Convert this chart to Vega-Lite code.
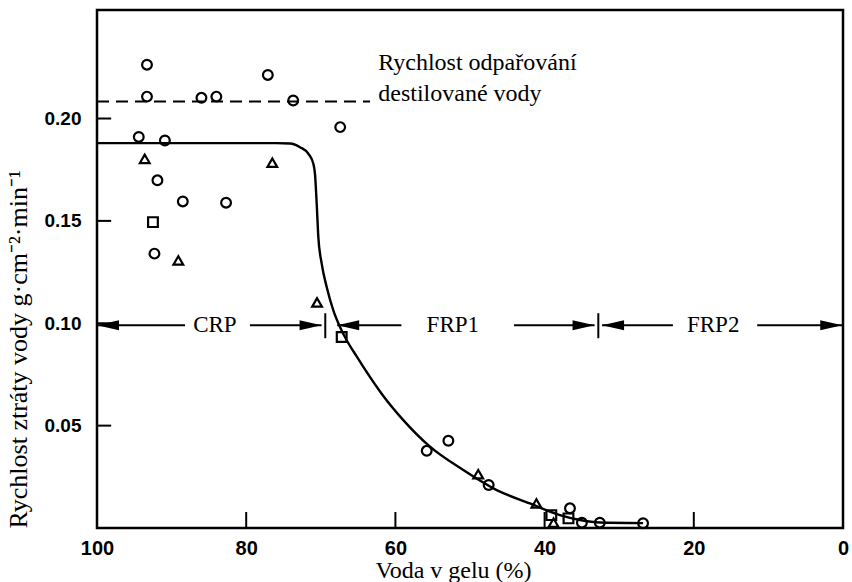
{
  "$schema": "https://vega.github.io/schema/vega-lite/v6.json",
  "autosize": "none",
  "width": 746,
  "height": 518,
  "padding": {"left": 97, "top": 10, "right": 9, "bottom": 54},
  "background": "white",
  "config": {
    "view": {"stroke": "black", "strokeWidth": 2.5},
    "axis": {"grid": false, "domain": false, "ticks": false, "tickSize": 0, "labelColor": "black", "titleColor": "black", "zindex": 1}
  },
  "resolve": {"scale": {"shape": "independent"}},
  "datasets": {
    "krivka": [
      {"voda": 100, "rychlost": 0.188},
      {"voda": 76, "rychlost": 0.188},
      {"voda": 74.13, "rychlost": 0.1878},
      {"voda": 72.79, "rychlost": 0.186},
      {"voda": 71.67, "rychlost": 0.1828},
      {"voda": 71.0, "rychlost": 0.1779},
      {"voda": 70.78, "rychlost": 0.173},
      {"voda": 70.55, "rychlost": 0.1584},
      {"voda": 70.33, "rychlost": 0.1421},
      {"voda": 69.88, "rychlost": 0.1291},
      {"voda": 69.21, "rychlost": 0.1177},
      {"voda": 68.32, "rychlost": 0.1063},
      {"voda": 67.43, "rychlost": 0.0982},
      {"voda": 66.53, "rychlost": 0.0917},
      {"voda": 65.19, "rychlost": 0.0838},
      {"voda": 64.3, "rychlost": 0.0787},
      {"voda": 61.62, "rychlost": 0.0645},
      {"voda": 58.94, "rychlost": 0.0527},
      {"voda": 55.36, "rychlost": 0.0397},
      {"voda": 50.9, "rychlost": 0.0283},
      {"voda": 46.42, "rychlost": 0.0185},
      {"voda": 41.96, "rychlost": 0.012},
      {"voda": 37.94, "rychlost": 0.0063},
      {"voda": 35.26, "rychlost": 0.0039},
      {"voda": 32.57, "rychlost": 0.0027},
      {"voda": 26.8, "rychlost": 0.0024}
    ],
    "body": [
      {"voda": 93.3, "rychlost": 0.2263, "symbol": "kruh"},
      {"voda": 93.3, "rychlost": 0.2107, "symbol": "kruh"},
      {"voda": 86.0, "rychlost": 0.2101, "symbol": "kruh"},
      {"voda": 84.0, "rychlost": 0.2107, "symbol": "kruh"},
      {"voda": 77.1, "rychlost": 0.2213, "symbol": "kruh"},
      {"voda": 73.7, "rychlost": 0.2088, "symbol": "kruh"},
      {"voda": 67.4, "rychlost": 0.1958, "symbol": "kruh"},
      {"voda": 94.4, "rychlost": 0.191, "symbol": "kruh"},
      {"voda": 90.9, "rychlost": 0.1893, "symbol": "kruh"},
      {"voda": 91.9, "rychlost": 0.1698, "symbol": "kruh"},
      {"voda": 88.5, "rychlost": 0.1595, "symbol": "kruh"},
      {"voda": 82.7, "rychlost": 0.1589, "symbol": "kruh"},
      {"voda": 92.3, "rychlost": 0.134, "symbol": "kruh"},
      {"voda": 55.8, "rychlost": 0.0377, "symbol": "kruh"},
      {"voda": 52.9, "rychlost": 0.0426, "symbol": "kruh"},
      {"voda": 47.5, "rychlost": 0.021, "symbol": "kruh"},
      {"voda": 36.6, "rychlost": 0.0096, "symbol": "kruh"},
      {"voda": 35.0, "rychlost": 0.0026, "symbol": "kruh"},
      {"voda": 32.6, "rychlost": 0.0026, "symbol": "kruh"},
      {"voda": 26.8, "rychlost": 0.0023, "symbol": "kruh"},
      {"voda": 93.6, "rychlost": 0.1803, "symbol": "trojúhelník"},
      {"voda": 76.5, "rychlost": 0.1784, "symbol": "trojúhelník"},
      {"voda": 89.1, "rychlost": 0.1307, "symbol": "trojúhelník"},
      {"voda": 70.5, "rychlost": 0.1102, "symbol": "trojúhelník"},
      {"voda": 48.9, "rychlost": 0.0263, "symbol": "trojúhelník"},
      {"voda": 41.1, "rychlost": 0.012, "symbol": "trojúhelník"},
      {"voda": 38.8, "rychlost": 0.0026, "symbol": "trojúhelník"},
      {"voda": 92.5, "rychlost": 0.1494, "symbol": "čtverec"},
      {"voda": 67.2, "rychlost": 0.0933, "symbol": "čtverec"},
      {"voda": 39.1, "rychlost": 0.0063, "symbol": "čtverec"},
      {"voda": 36.8, "rychlost": 0.0047, "symbol": "čtverec"}
    ],
    "usecky": [
      {"od": 100, "do": 88.2, "y": 0.099},
      {"od": 79.5, "do": 69.9, "y": 0.099},
      {"od": 67.8, "do": 59.2, "y": 0.099},
      {"od": 44.1, "do": 33.3, "y": 0.099},
      {"od": 32.3, "do": 22.8, "y": 0.099},
      {"od": 11.5, "do": 0.1, "y": 0.099}
    ],
    "sipky": [
      {"x": 100, "y": 0.099, "smer": "vlevo"},
      {"x": 69.9, "y": 0.099, "smer": "vpravo"},
      {"x": 67.8, "y": 0.099, "smer": "vlevo"},
      {"x": 33.3, "y": 0.099, "smer": "vpravo"},
      {"x": 32.3, "y": 0.099, "smer": "vlevo"},
      {"x": 0.1, "y": 0.099, "smer": "vpravo"}
    ],
    "hranice": [
      {"x": 69.4, "y1": 0.0927, "y2": 0.1049},
      {"x": 32.8, "y1": 0.0927, "y2": 0.1049}
    ],
    "xticky": [
      {"x": 80, "y1": 0, "y2": 0.0078},
      {"x": 60, "y1": 0, "y2": 0.0078},
      {"x": 40, "y1": 0, "y2": 0.0078},
      {"x": 20, "y1": 0, "y2": 0.0078}
    ],
    "yticky": [
      {"x1": 100, "x2": 98.1, "y": 0.05},
      {"x1": 100, "x2": 98.1, "y": 0.1},
      {"x1": 100, "x2": 98.1, "y": 0.15},
      {"x1": 100, "x2": 98.1, "y": 0.2}
    ],
    "obdobi": [
      {"x": 84.2, "y": 0.099, "text": "CRP"},
      {"x": 52.3, "y": 0.099, "text": "FRP1"},
      {"x": 17.4, "y": 0.099, "text": "FRP2"}
    ],
    "odparovani": [
      {"od": 100, "do": 63.4, "y": 0.2083}
    ],
    "popis": [
      {"x": 62.3, "y": 0.2235, "text": "Rychlost odpařování"},
      {"x": 62.3, "y": 0.2084, "text": "destilované vody"}
    ]
  },
  "layer": [
    {
      "data": {"name": "odparovani"},
      "mark": {"type": "rule", "color": "black", "strokeWidth": 2, "strokeDash": [12, 7]},
      "encoding": {
        "x": {"field": "od", "type": "quantitative",
          "scale": {"domain": [0, 100], "reverse": true, "nice": false, "zero": false},
          "axis": {
            "values": [0, 20, 40, 60, 80, 100],
            "labelFont": "Liberation Sans", "labelFontWeight": "bold", "labelFontSize": 20,
            "labelPadding": 10, "labelFlush": false, "labelOverlap": false, "labelBound": false,
            "title": "Voda v gelu (%)",
            "titleFont": "Liberation Serif", "titleFontWeight": "normal", "titleFontSize": 24,
            "titleX": 356, "titleY": 49, "titleBaseline": "alphabetic", "titleAnchor": null
          }
        },
        "x2": {"field": "do"},
        "y": {"field": "y", "type": "quantitative",
          "scale": {"domain": [0, 0.253], "nice": false, "zero": true},
          "axis": {
            "values": [0.05, 0.1, 0.15, 0.2], "format": ".2f",
            "labelFont": "Liberation Sans", "labelFontWeight": "bold", "labelFontSize": 19,
            "labelPadding": 16, "labelOverlap": false, "labelBound": false,
            "title": "Rychlost ztráty vody g·cm⁻²·min⁻¹",
            "titleFont": "Liberation Serif", "titleFontWeight": "normal", "titleFontSize": 26,
            "titleX": -79, "titleY": 518, "titleAngle": 270, "titleAlign": "left", "titleBaseline": "middle"
          }
        }
      }
    },
    {
      "data": {"name": "xticky"},
      "mark": {"type": "rule", "color": "black", "strokeWidth": 2},
      "encoding": {
        "x": {"field": "x", "type": "quantitative"},
        "y": {"field": "y1", "type": "quantitative"},
        "y2": {"field": "y2"}
      }
    },
    {
      "data": {"name": "yticky"},
      "mark": {"type": "rule", "color": "black", "strokeWidth": 2},
      "encoding": {
        "x": {"field": "x1", "type": "quantitative"},
        "x2": {"field": "x2"},
        "y": {"field": "y", "type": "quantitative"}
      }
    },
    {
      "data": {"name": "krivka"},
      "mark": {"type": "line", "color": "black", "strokeWidth": 2.4, "interpolate": "monotone"},
      "encoding": {
        "x": {"field": "voda", "type": "quantitative"},
        "y": {"field": "rychlost", "type": "quantitative"}
      }
    },
    {
      "data": {"name": "usecky"},
      "mark": {"type": "rule", "color": "black", "strokeWidth": 2},
      "encoding": {
        "x": {"field": "od", "type": "quantitative"},
        "x2": {"field": "do"},
        "y": {"field": "y", "type": "quantitative"}
      }
    },
    {
      "data": {"name": "hranice"},
      "mark": {"type": "rule", "color": "black", "strokeWidth": 2},
      "encoding": {
        "x": {"field": "x", "type": "quantitative"},
        "y": {"field": "y1", "type": "quantitative"},
        "y2": {"field": "y2"}
      }
    },
    {
      "data": {"name": "sipky"},
      "mark": {"type": "point", "filled": true, "color": "black", "size": 484, "opacity": 1},
      "encoding": {
        "x": {"field": "x", "type": "quantitative"},
        "y": {"field": "y", "type": "quantitative"},
        "shape": {"field": "smer", "type": "nominal",
          "scale": {"domain": ["vlevo", "vpravo"], "range": ["M0,0L2,-0.45L2,0.45Z", "M0,0L-2,-0.45L-2,0.45Z"]},
          "legend": null}
      }
    },
    {
      "data": {"name": "body"},
      "mark": {"type": "point", "filled": false, "color": "black", "strokeWidth": 2.2, "size": 95, "opacity": 1},
      "encoding": {
        "x": {"field": "voda", "type": "quantitative"},
        "y": {"field": "rychlost", "type": "quantitative"},
        "shape": {"field": "symbol", "type": "nominal",
          "scale": {"domain": ["kruh", "trojúhelník", "čtverec"], "range": ["circle", "triangle-up", "square"]},
          "legend": null}
      }
    },
    {
      "data": {"name": "obdobi"},
      "mark": {"type": "text", "font": "Liberation Serif", "fontSize": 23, "color": "black", "align": "center", "baseline": "middle"},
      "encoding": {
        "x": {"field": "x", "type": "quantitative"},
        "y": {"field": "y", "type": "quantitative"},
        "text": {"field": "text"}
      }
    },
    {
      "data": {"name": "popis"},
      "mark": {"type": "text", "font": "Liberation Serif", "fontSize": 24, "color": "black", "align": "left", "baseline": "alphabetic"},
      "encoding": {
        "x": {"field": "x", "type": "quantitative"},
        "y": {"field": "y", "type": "quantitative"},
        "text": {"field": "text"}
      }
    }
  ]
}
